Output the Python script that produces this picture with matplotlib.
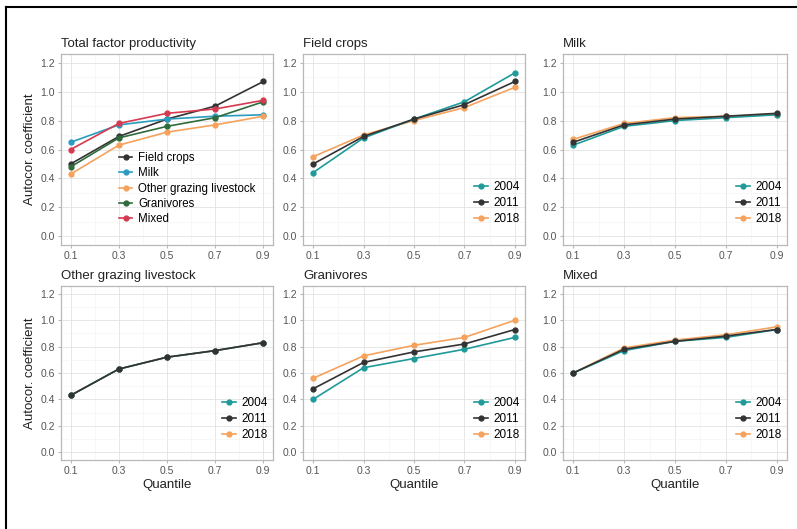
import matplotlib.pyplot as plt
from matplotlib.lines import Line2D

plt.rcParams['font.family'] = ['Liberation Sans', 'DejaVu Sans']

# Data
quantiles = [0.1, 0.3, 0.5, 0.7, 0.9]
years = ["2004", "2011", "2018"]

# Total factor productivity panel (by farm type)
tfp_types = ["Field crops", "Milk", "Other grazing livestock", "Granivores", "Mixed"]
tfp_values = [
    [0.50, 0.69, 0.81, 0.90, 1.07],
    [0.65, 0.77, 0.81, 0.83, 0.84],
    [0.43, 0.63, 0.72, 0.77, 0.83],
    [0.48, 0.68, 0.76, 0.82, 0.93],
    [0.60, 0.78, 0.85, 0.88, 0.94],
]

# Per farm type, by year (2004, 2011, 2018)
field_crops = [
    [0.44, 0.68, 0.81, 0.93, 1.13],
    [0.50, 0.69, 0.81, 0.91, 1.07],
    [0.55, 0.70, 0.80, 0.89, 1.03],
]
milk = [
    [0.63, 0.76, 0.80, 0.82, 0.84],
    [0.65, 0.77, 0.81, 0.83, 0.85],
    [0.67, 0.78, 0.82, 0.83, 0.84],
]
other_grazing = [
    [0.43, 0.63, 0.72, 0.77, 0.83],
    [0.43, 0.63, 0.72, 0.77, 0.83],
    [0.43, 0.63, 0.72, 0.77, 0.83],
]
granivores = [
    [0.40, 0.64, 0.71, 0.78, 0.87],
    [0.48, 0.68, 0.76, 0.82, 0.93],
    [0.56, 0.73, 0.81, 0.87, 1.00],
]
mixed = [
    [0.60, 0.77, 0.84, 0.87, 0.93],
    [0.60, 0.78, 0.84, 0.88, 0.93],
    [0.60, 0.79, 0.85, 0.89, 0.95],
]

type_colors = ["#333333", "#2a9cc0", "#f5a25d", "#2f6b3c", "#d63a50"]
year_colors = ["#1f9a9a", "#333333", "#f5a25d"]
year_zorder = [2.2, 2.4, 2.1]

W, H = 797, 529
fig = plt.figure(figsize=(W / 100, H / 100), dpi=100)

# outer frame (top and left edges visible)
fig.add_artist(Line2D([6 / W, 6 / W], [0, 1 - 7 / H], color="black", lw=1.5))
fig.add_artist(Line2D([6 / W, 1], [1 - 7 / H, 1 - 7 / H], color="black", lw=1.5))


def make_ax(x0, y0, x1, y1):
    return fig.add_axes([x0 / W, 1 - y1 / H, (x1 - x0) / W, (y1 - y0) / H])


def style(ax, title):
    ax.set_xlim(0.06, 0.94)
    ax.set_ylim(-0.06, 1.26)
    ax.set_xticks(quantiles)
    ax.set_xticks([0.2, 0.4, 0.6, 0.8], minor=True)
    ax.set_yticks([0.0, 0.2, 0.4, 0.6, 0.8, 1.0, 1.2])
    ax.set_yticks([0.1, 0.3, 0.5, 0.7, 0.9, 1.1], minor=True)
    ax.set_xticklabels([f"{q:.1f}" for q in quantiles])
    ax.set_yticklabels([f"{v:.1f}" for v in [0.0, 0.2, 0.4, 0.6, 0.8, 1.0, 1.2]])
    ax.grid(True, which="major", color="#e3e3e3", lw=0.6)
    ax.grid(True, which="minor", color="#f1f1f1", lw=0.4)
    ax.set_axisbelow(True)
    for s in ax.spines.values():
        s.set_color("#b8b8b8")
        s.set_linewidth(0.9)
    ax.tick_params(which="major", length=2.5, color="#b8b8b8", labelsize=7.5,
                   labelcolor="#555555", pad=2)
    ax.tick_params(which="minor", length=0)
    ax.set_title(title, loc="left", fontsize=9.5, pad=5, color="#222222")


cols = [(61, 273), (303, 525), (563, 787)]
rows = [(54, 245), (286, 460)]

panels = [
    ("Field crops", field_crops),
    ("Milk", milk),
    ("Other grazing livestock", other_grazing),
    ("Granivores", granivores),
    ("Mixed", mixed),
]

# first panel: total factor productivity
ax = make_ax(cols[0][0], rows[0][0], cols[0][1], rows[0][1])
style(ax, "Total factor productivity")
for name, vals, c in zip(tfp_types, tfp_values, type_colors):
    ax.plot(quantiles, vals, color=c, lw=1.2, marker="o", markersize=3.5, label=name)
ax.legend(loc="upper left", bbox_to_anchor=(0.25, 0.51), frameon=False, fontsize=8.3,
          handlelength=1.2, handletextpad=0.5, labelspacing=0.28, borderaxespad=0)
ax.set_ylabel("Autocor. coefficient", fontsize=9.5, color="#222222", labelpad=3)

for i, (title, data) in enumerate(panels):
    k = i + 1
    r, c = divmod(k, 3)
    ax = make_ax(cols[c][0], rows[r][0], cols[c][1], rows[r][1])
    style(ax, title)
    for yr, vals, col, z in zip(years, data, year_colors, year_zorder):
        ax.plot(quantiles, vals, color=col, lw=1.2, marker="o", markersize=3.5,
                label=yr, zorder=z)
    ax.legend(loc="lower right", bbox_to_anchor=(1.0, 0.08), frameon=False, fontsize=8.5,
              handlelength=1.2, handletextpad=0.5, labelspacing=0.35, borderaxespad=0)
    if c == 0:
        ax.set_ylabel("Autocor. coefficient", fontsize=9.5, color="#222222", labelpad=3)
    if r == 1:
        ax.set_xlabel("Quantile", fontsize=9.5, color="#222222", labelpad=2)

fig.savefig("out.png", dpi=100)
